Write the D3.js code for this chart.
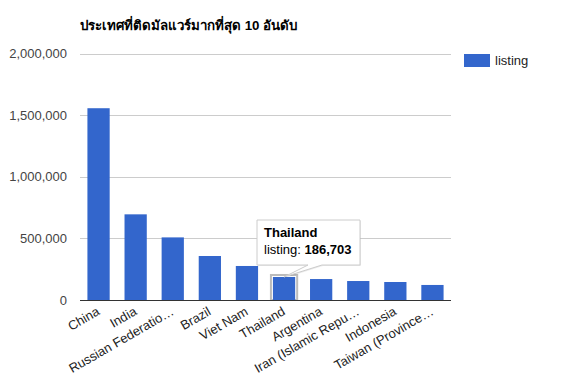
<!DOCTYPE html>
<html>
<head>
<meta charset="utf-8">
<script src="https://cdn.jsdelivr.net/npm/d3@7"></script>
<style>
  html, body { margin: 0; padding: 0; background: #fff; }
  svg { display: block; font-family: Arial, "Liberation Sans", sans-serif; }
</style>
</head>
<body>
<svg id="chart" width="561" height="385"></svg>
<script>
// Top 10 countries by malware infections (listing counts)
const categories = [
  "China", "India", "Russian Federatio\u2026", "Brazil", "Viet Nam",
  "Thailand", "Argentina", "Iran (Islamic Repu\u2026", "Indonesia", "Taiwan (Province\u2026"
];
const listing = [1556000, 695000, 508000, 357000, 276000, 186703, 170000, 154000, 146000, 122000];
const yTicks = [0, 500000, 1000000, 1500000, 2000000];
const seriesName = "listing";
const title = "ประเทศที่ติดมัลแวร์มากที่สุด 10 อันดับ";
const highlighted = "Thailand";

const svg = d3.select("#chart");
const plot = { left: 80, right: 451, top: 53.5, bottom: 300 };
const barColor = "#3366cc";
const fmt = d3.format(",");

const x = d3.scaleBand()
  .domain(categories)
  .range([plot.left, plot.right])
  .paddingInner(0.4)
  .paddingOuter(0.2);

const y = d3.scaleLinear()
  .domain([0, 2000000])
  .range([plot.bottom, plot.top]);

// Title
svg.append("text")
  .attr("x", 80).attr("y", 30)
  .attr("font-size", 13.3).attr("font-weight", "bold")
  .attr("fill", "#000")
  .text(title);

// Gridlines
svg.append("g")
  .selectAll("line")
  .data(yTicks.filter(d => d > 0))
  .join("line")
  .attr("x1", plot.left).attr("x2", plot.right)
  .attr("y1", d => Math.round(y(d)) + 0.5).attr("y2", d => Math.round(y(d)) + 0.5)
  .attr("stroke", "#cccccc").attr("stroke-width", 1);

// Y axis labels
const yAxis = d3.axisLeft(y).tickValues(yTicks).tickFormat(fmt).tickSize(0).tickPadding(0);
const yg = svg.append("g").attr("transform", `translate(67,0)`).call(yAxis);
yg.select(".domain").remove();
yg.selectAll("text")
  .attr("font-size", 13).attr("font-family", "Arial, 'Liberation Sans', sans-serif")
  .attr("fill", "#444");

// Bars
const data = categories.map((c, i) => ({ c, v: listing[i] }));
const hl = data.find(d => d.c === highlighted);

// Hover ring around highlighted bar
svg.append("rect")
  .attr("x", x(hl.c) - 2)
  .attr("y", y(hl.v) - 2)
  .attr("width", x.bandwidth() + 4)
  .attr("height", y(0) - y(hl.v) + 2)
  .attr("fill", "none")
  .attr("stroke", "#bbbbbb").attr("stroke-width", 2);

svg.append("g")
  .selectAll("rect")
  .data(data)
  .join("rect")
  .attr("x", d => x(d.c))
  .attr("y", d => y(d.v))
  .attr("width", x.bandwidth())
  .attr("height", d => y(0) - y(d.v))
  .attr("fill", barColor);

// Baseline
svg.append("line")
  .attr("x1", plot.left).attr("x2", plot.right)
  .attr("y1", plot.bottom + 0.5).attr("y2", plot.bottom + 0.5)
  .attr("stroke", "#333").attr("stroke-width", 1);

// Category labels, rotated
const xAxis = d3.axisBottom(x).tickSize(0).tickPadding(0);
const xg = svg.append("g").attr("transform", `translate(0,${plot.bottom})`).call(xAxis);
xg.select(".domain").remove();
xg.selectAll(".tick text")
  .attr("font-size", 13).attr("font-family", "Arial, 'Liberation Sans', sans-serif")
  .attr("fill", "#222")
  .attr("text-anchor", "end")
  .attr("dy", 0)
  .attr("y", 0)
  .attr("transform", "translate(2,14) rotate(-30)");

// Legend
svg.append("rect")
  .attr("x", 464).attr("y", 54).attr("width", 26).attr("height", 13)
  .attr("fill", barColor);
svg.append("text")
  .attr("x", 495).attr("y", 65)
  .attr("font-size", 13).attr("fill", "#222")
  .text(seriesName);

// Tooltip for highlighted bar
const tipX = x(hl.c) + x.bandwidth() / 2;
const tipY = y(hl.v);
const box = { x: 257, y: 220, w: 103, h: 45 };
const tip = svg.append("g");
const tipPath = `M${box.x},${box.y} H${box.x + box.w} V${box.y + box.h} H${box.x + 65}
  L${tipX},${tipY} L${box.x + 51},${box.y + box.h} H${box.x} Z`;
tip.append("path")
  .attr("d", tipPath)
  .attr("transform", "translate(1,1)")
  .attr("fill", "#000").attr("opacity", 0.08);
tip.append("path")
  .attr("d", tipPath)
  .attr("fill", "#fff")
  .attr("stroke", "#cccccc").attr("stroke-width", 1);
tip.append("text")
  .attr("x", box.x + 7).attr("y", box.y + 17)
  .attr("font-size", 13).attr("font-weight", "bold").attr("fill", "#000")
  .text(hl.c);
const t2 = tip.append("text")
  .attr("x", box.x + 7).attr("y", box.y + 34)
  .attr("font-size", 13).attr("fill", "#000");
t2.append("tspan").text(seriesName + ": ");
t2.append("tspan").attr("font-weight", "bold").text(fmt(hl.v));
</script>
</body>
</html>
